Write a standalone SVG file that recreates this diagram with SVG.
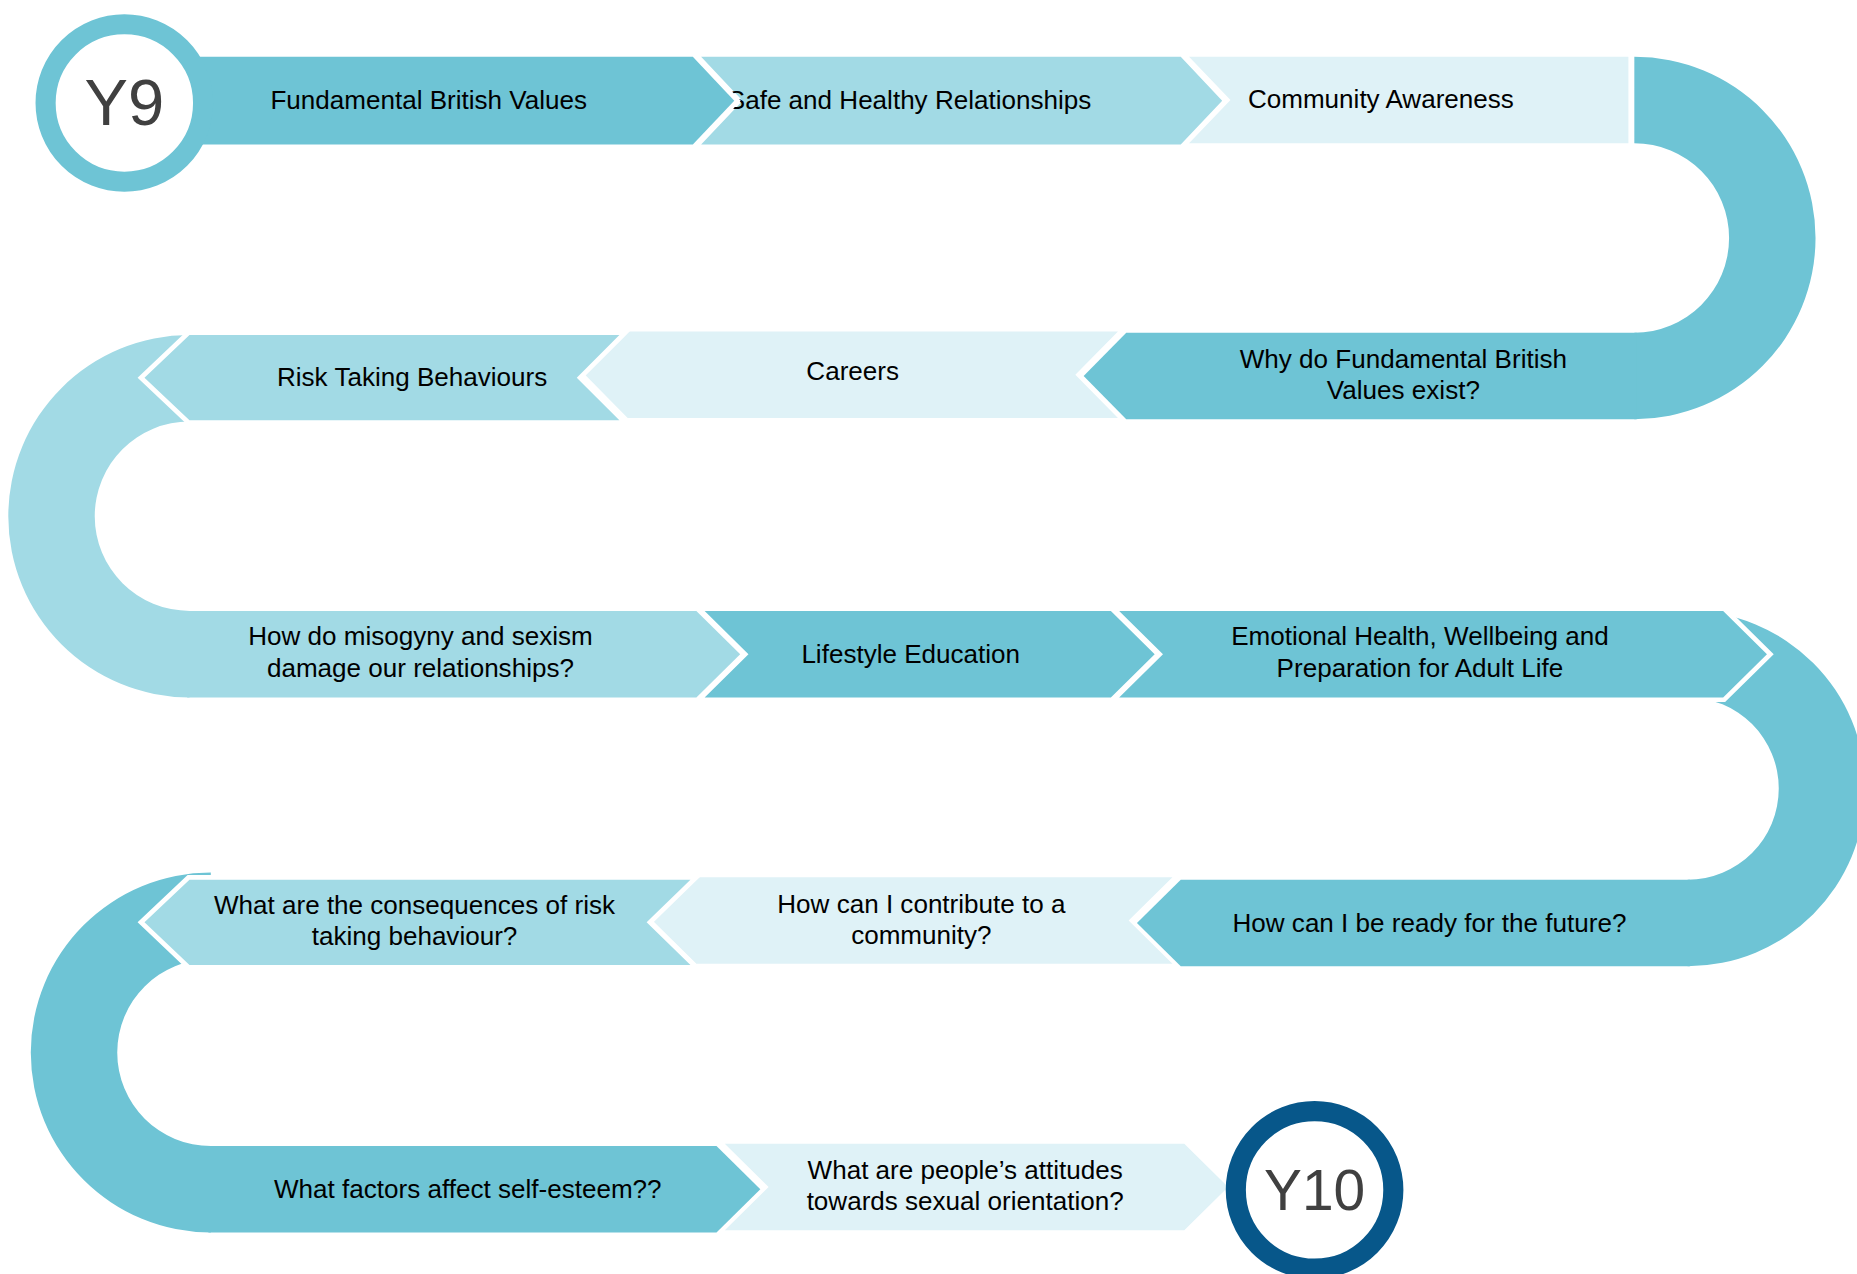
<svg xmlns="http://www.w3.org/2000/svg" width="1857" height="1274" viewBox="0 0 1857 1274">
<style>
.med{fill:#6ec4d5}
.lt{fill:#a2dae5}
.vlt{fill:#dff2f7}
.halo{fill:#fff;stroke:#fff;stroke-width:8;stroke-linejoin:miter}
.lbl{font-family:"Liberation Sans",Arial,sans-serif;font-size:22px;fill:#000;text-anchor:middle}
.yr{font-family:"Liberation Sans",Arial,sans-serif;fill:#404040;text-anchor:middle}
</style>
<rect width="1857" height="1274" fill="#fff"/>
<g transform="scale(1.1843 1.1840)">
<g id="connectors">
<path id="bend1" class="med" d="M1380,48 A153,153 0 0 1 1380,354 L1380,281 A80,80 0 0 0 1380,121 Z"/>
<path id="bend2" class="lt" d="M160,283 A153,153 0 0 0 160,589 L160,516 A80,80 0 0 1 160,356 Z"/>
<path id="bend3" class="med" d="M1425,516 A150,150 0 0 1 1425,816 L1425,743 A77,77 0 0 0 1425,589 Z"/>
<path id="bend4" class="med" d="M178,737 A152,152 0 0 0 178,1041 L178,968 A79,79 0 0 1 178,810 Z"/>
</g>
<g id="n2">
<polygon class="lt" points="592,48 997,48 1032,85 997,122 592,122 627,85"/>
<text class="lbl" x="768" y="92">Safe and Healthy Relationships</text>
</g>
<g id="n1">
<polygon class="halo" points="165,48 585,48 620,85 585,122 165,122"/>
<polygon class="med" points="165,48 585,48 620,85 585,122 165,122"/>
<text class="lbl" x="362" y="92">Fundamental British Values</text>
</g>
<g id="n3">
<polygon class="vlt" points="1004,48 1375,48 1375,121 1004,121 1039,84.5"/>
<text class="lbl" x="1166" y="91">Community Awareness</text>
</g>
<g id="n4">
<polygon class="med" points="1382,281 951,281 915,317.5 951,354 1382,354"/>
<text class="lbl" x="1185" y="311">Why do Fundamental British</text>
<text class="lbl" x="1185" y="337">Values exist?</text>
</g>
<g id="n5">
<polygon class="vlt" points="944,280 908,316.5 944,353 530,353 494,316.5 530,280"/>
<text class="lbl" x="720" y="321">Careers</text>
</g>
<g id="n6">
<polygon class="halo" points="523,283 487,319 523,355 160,355 122,319 160,283"/>
<polygon class="lt" points="523,283 487,319 523,355 160,355 122,319 160,283"/>
<text class="lbl" x="348" y="326">Risk Taking Behaviours</text>
</g>
<g id="n7">
<polygon class="lt" points="158,516 588,516 625,552.5 588,589 158,589"/>
<text class="lbl" x="355" y="545">How do misogyny and sexism</text>
<text class="lbl" x="355" y="572">damage our relationships?</text>
</g>
<g id="n8">
<polygon class="med" points="595,516 938,516 975,552.5 938,589 595,589 632,552.5"/>
<text class="lbl" x="769" y="560">Lifestyle Education</text>
</g>
<g id="n9">
<polygon class="halo" points="945,516 1455,516 1492,552.5 1455,589 945,589 982,552.5"/>
<polygon class="med" points="945,516 1455,516 1492,552.5 1455,589 945,589 982,552.5"/>
<text class="lbl" x="1199" y="545">Emotional Health, Wellbeing and</text>
<text class="lbl" x="1199" y="572">Preparation for Adult Life</text>
</g>
<g id="n10">
<polygon class="med" points="1427,743 997,743 960,779.5 997,816 1427,816"/>
<text class="lbl" x="1207" y="787">How can I be ready for the future?</text>
</g>
<g id="n11">
<polygon class="vlt" points="990,741 953,777.5 990,814 588,814 551,777.5 588,741"/>
<text class="lbl" x="778" y="771">How can I contribute to a</text>
<text class="lbl" x="778" y="797">community?</text>
</g>
<g id="n12">
<polygon class="halo" points="583,743 546,779 583,815 160,815 122,779 160,743"/>
<polygon class="lt" points="583,743 546,779 583,815 160,815 122,779 160,743"/>
<text class="lbl" x="350" y="772">What are the consequences of risk</text>
<text class="lbl" x="350" y="798">taking behaviour?</text>
</g>
<g id="n13">
<polygon class="med" points="176,968 605,968 642,1004.5 605,1041 176,1041"/>
<text class="lbl" x="395" y="1012">What factors affect self-esteem??</text>
</g>
<g id="n14">
<polygon class="vlt" points="612,966 1000,966 1037,1002.5 1000,1039 612,1039 649,1002.5"/>
<text class="lbl" x="815" y="996">What are people’s attitudes</text>
<text class="lbl" x="815" y="1022">towards sexual orientation?</text>
</g>
<g id="y9">
<circle cx="105" cy="87" r="66.5" fill="#fff" stroke="#6ec4d5" stroke-width="17"/>
<text class="yr" x="105" y="106" font-size="55">Y9</text>
</g>
<g id="y10">
<circle cx="1110" cy="1005" r="66.5" fill="#fff" stroke="#07578a" stroke-width="17"/>
<text class="yr" x="1110" y="1022" font-size="48">Y10</text>
</g>
</g>
</svg>
